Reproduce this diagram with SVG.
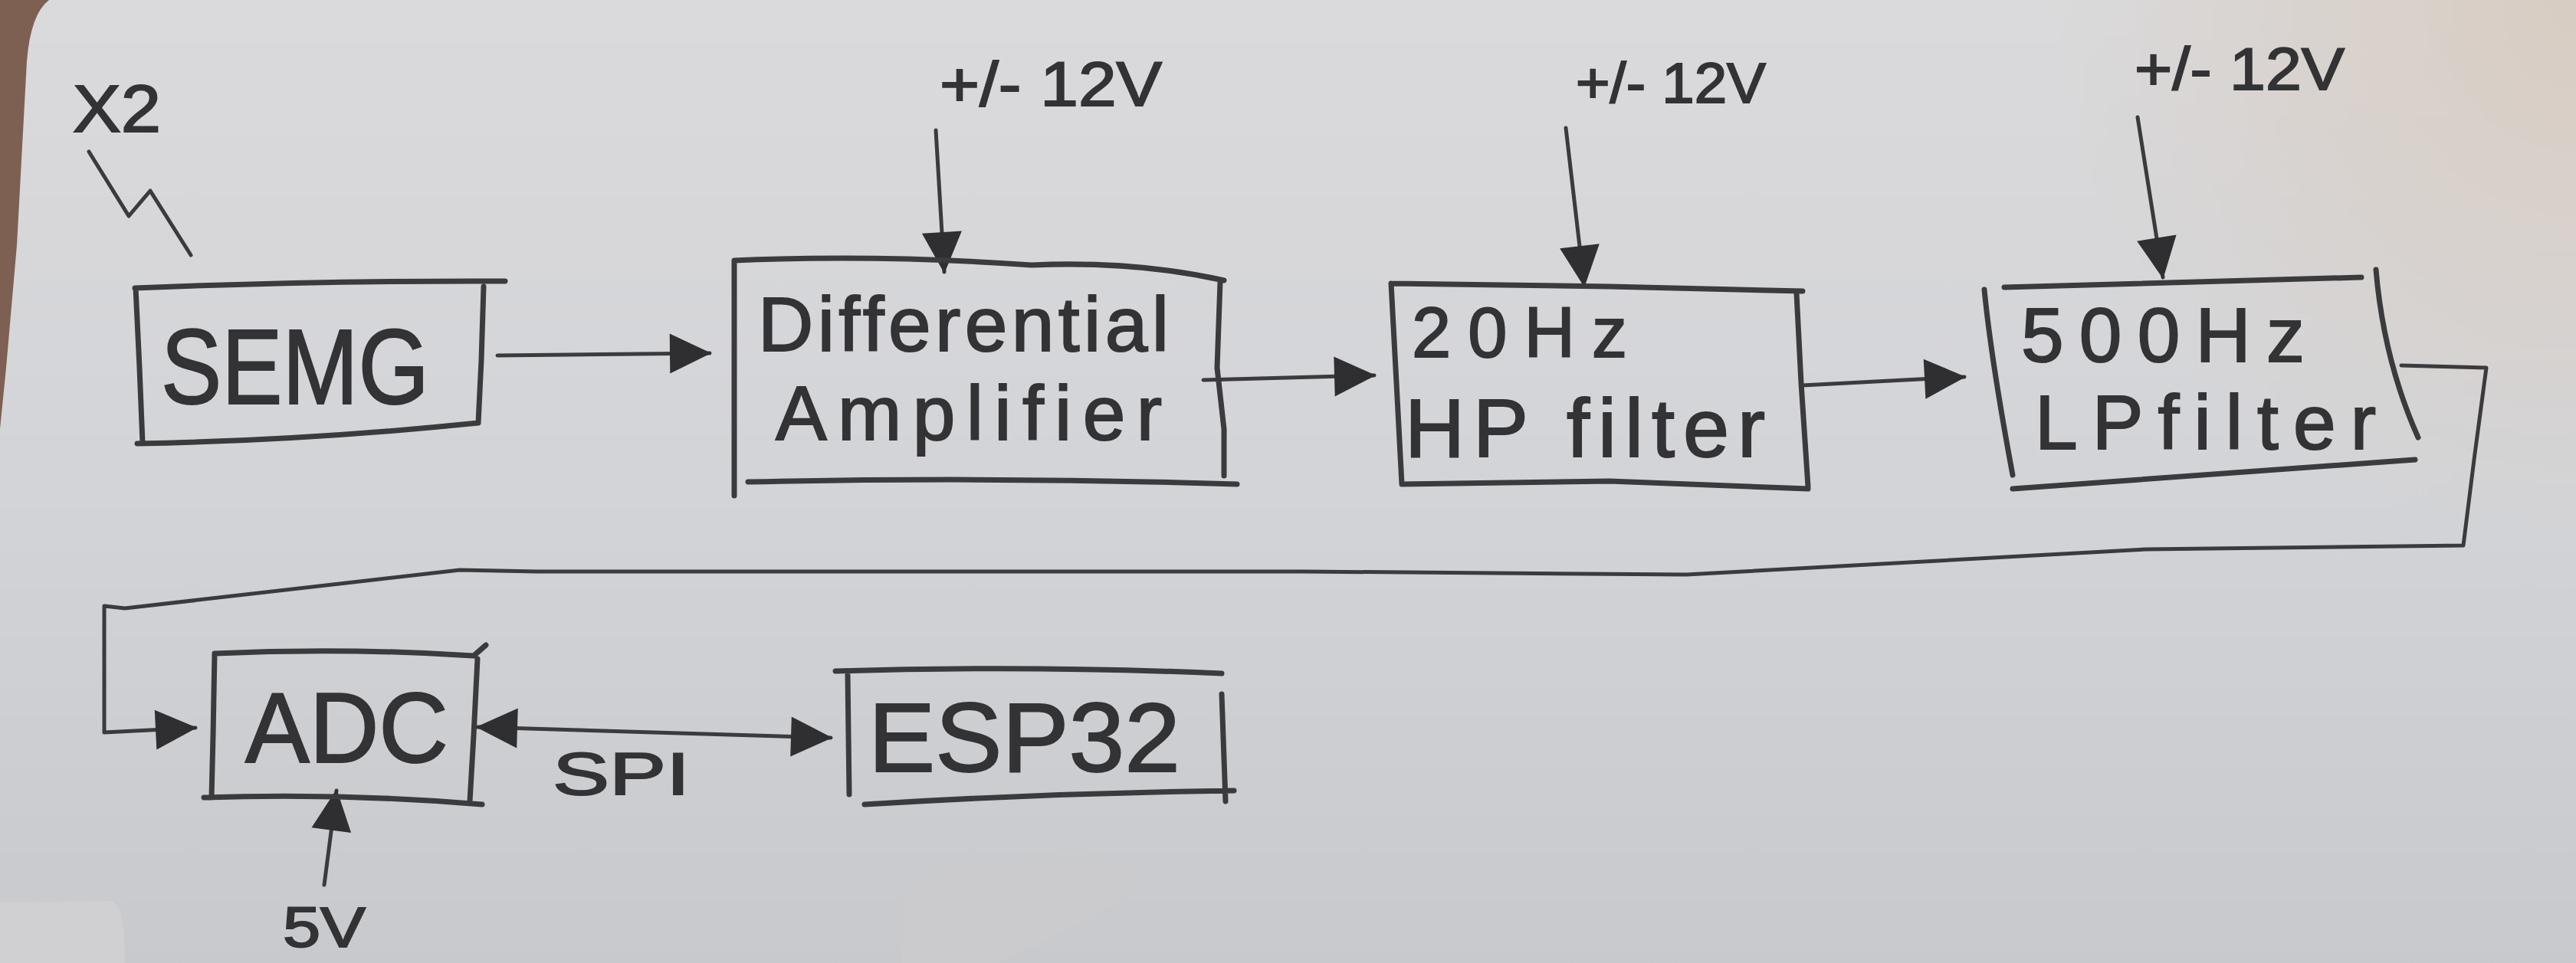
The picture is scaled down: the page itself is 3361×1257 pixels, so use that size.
<svg xmlns="http://www.w3.org/2000/svg" width="3361" height="1257" viewBox="0 0 3361 1257">
  <defs>
    <linearGradient id="paper" x1="0" y1="0" x2="0" y2="1">
      <stop offset="0" stop-color="#dadadc"/>
      <stop offset="0.5" stop-color="#d3d4d7"/>
      <stop offset="1" stop-color="#c8c9cd"/>
    </linearGradient>
    <radialGradient id="warm" cx="3361" cy="0" r="700" gradientUnits="userSpaceOnUse">
      <stop offset="0" stop-color="#d8cbbf" stop-opacity="0.9"/>
      <stop offset="1" stop-color="#d8cbbf" stop-opacity="0"/>
    </radialGradient>
    <marker id="head" viewBox="0 0 56 56" markerWidth="56" markerHeight="56" refX="54" refY="28" orient="auto-start-reverse" markerUnits="userSpaceOnUse">
      <path d="M2,2 L56,28 L2,54 Z" fill="#2f2f32"/>
    </marker>
  </defs>
  <style>
    .box{fill:none;stroke:#3b3b3e;stroke-width:7;stroke-linecap:round;stroke-linejoin:round}
    .wire{fill:none;stroke:#3b3b3e;stroke-width:5;stroke-linecap:round;stroke-linejoin:round}
    .arrow{marker-end:url(#head)}
    .lbl{font-family:"Liberation Sans",Arial,sans-serif;fill:#333336;stroke:#333336;stroke-width:2}
  </style>

  <g id="background">
    <rect x="0" y="0" width="3361" height="1257" fill="url(#paper)"/>
    <rect x="2600" y="0" width="761" height="700" fill="url(#warm)"/>
    <path d="M0,0 L64,0 Q40,18 35,80 L22,320 L8,480 L0,560 Z" fill="#7e6052"/>
    <path d="M0,1178 L148,1176 Q166,1196 162,1257 L0,1257 Z" fill="#d0d0d2"/>
    <path d="M1180,1160 Q1210,1140 1280,1128 Q1400,1112 1470,1125 Q1490,1150 1440,1190 Q1360,1230 1300,1257 L1175,1257 Z" fill="#cbcbcd"/>
  </g>

  <g id="connectors">
    <path id="semg-to-diff" class="wire arrow" d="M649,464 L926,461"/>
    <path id="diff-to-hp" class="wire arrow" d="M1570,496 L1793,490"/>
    <path id="hp-to-lp" class="wire arrow" d="M2352,503 L2563,492"/>
    <path id="lp-to-adc" class="wire arrow" d="M3133,477 L3244,480 L3228,600 L3214,712 L2800,717 L2200,750 L1700,746 L700,746 L600,744 L163,794 L136,791 L136,956 L255,950"/>
    <path id="pwr-diff" class="wire arrow" d="M1221,170 L1232,355"/>
    <path id="pwr-hp" class="wire arrow" d="M2043,167 L2067,373"/>
    <path id="pwr-lp" class="wire arrow" d="M2789,153 L2822,362"/>
    <path id="pwr-adc" class="wire arrow" d="M423,1155 L439,1032"/>
    <path id="adc-esp32-spi" class="wire arrow" style="marker-start:url(#head)" d="M623,949 L1084,963"/>
    <path id="semg-signal" class="wire" d="M116,198 L168,282 L196,249 L249,333"/>
  </g>

  <g id="label-x2">
    <text class="lbl" x="95" y="172" font-size="88" textLength="115" lengthAdjust="spacingAndGlyphs">X2</text>
  </g>

  <g id="node-semg">
    <path class="box" d="M176,376 Q420,366 659,367 M177,376 L182,480 L186,578 M179,579 Q400,575 624,552 M631,374 L628,470 L624,552"/>
    <text class="lbl" x="210" y="527" font-size="140" textLength="350" lengthAdjust="spacingAndGlyphs">SEMG</text>
  </g>

  <g id="node-diff-amp">
    <path class="box" d="M958,340 Q1150,332 1346,346 Q1480,340 1597,366 M958,340 L958,500 L958,647 M976,629 Q1300,622 1614,632 M1592,368 L1588,480 L1597,560 L1597,621"/>
    <text class="lbl" x="989" y="458" font-size="100" textLength="536" lengthAdjust="spacing">Differential</text>
    <text class="lbl" x="1012" y="574" font-size="100" textLength="504" lengthAdjust="spacing">Amplifier</text>
  </g>

  <g id="node-hp-filter">
    <path class="box" d="M1815,370 L2100,374 L2352,380 M1815,370 L1822,500 L1829,632 M1829,632 L2100,628 L2359,638 M2344,383 L2350,500 L2359,635"/>
    <text class="lbl" x="1842" y="466" font-size="92" textLength="281" lengthAdjust="spacing">20Hz</text>
    <text class="lbl" x="1833" y="596" font-size="108" textLength="470" lengthAdjust="spacing">HP filter</text>
  </g>

  <g id="node-lp-filter">
    <path class="box" d="M2589,378 Q2598,470 2626,620 M2615,375 L3081,362 M3100,352 Q3110,470 3155,571 M2626,638 L3151,600"/>
    <text class="lbl" x="2637" y="472" font-size="100" textLength="370" lengthAdjust="spacing">500Hz</text>
    <text class="lbl" x="2655" y="586" font-size="100" textLength="445" lengthAdjust="spacing">LPfilter</text>
  </g>

  <g id="node-adc">
    <path class="box" d="M280,853 Q450,845 618,856 L634,842 M280,853 L278,960 L276,1041 M266,1041 Q450,1035 629,1050 M623,860 L618,960 L613,1046"/>
    <text class="lbl" x="320" y="995" font-size="130" textLength="265" lengthAdjust="spacingAndGlyphs">ADC</text>
  </g>

  <g id="node-esp32">
    <path class="box" d="M1090,876 Q1340,868 1594,879 M1106,881 L1108,1037 M1128,1050 Q1370,1035 1610,1032 M1594,906 L1599,1046"/>
    <text class="lbl" x="1133" y="1007" font-size="128" textLength="407" lengthAdjust="spacingAndGlyphs">ESP32</text>
  </g>

  <g id="label-pwr-diff">
    <text class="lbl" x="1226" y="138" font-size="82" textLength="290" lengthAdjust="spacingAndGlyphs">+/- 12V</text>
  </g>
  <g id="label-pwr-hp">
    <text class="lbl" x="2056" y="134" font-size="74" textLength="248" lengthAdjust="spacingAndGlyphs">+/- 12V</text>
  </g>
  <g id="label-pwr-lp">
    <text class="lbl" x="2785" y="117" font-size="78" textLength="274" lengthAdjust="spacingAndGlyphs">+/- 12V</text>
  </g>
  <g id="label-spi">
    <text class="lbl" x="721" y="1037" font-size="78" textLength="179" lengthAdjust="spacingAndGlyphs">SPI</text>
  </g>
  <g id="label-5v">
    <text class="lbl" x="369" y="1236" font-size="74" textLength="108" lengthAdjust="spacingAndGlyphs">5V</text>
  </g>
</svg>
